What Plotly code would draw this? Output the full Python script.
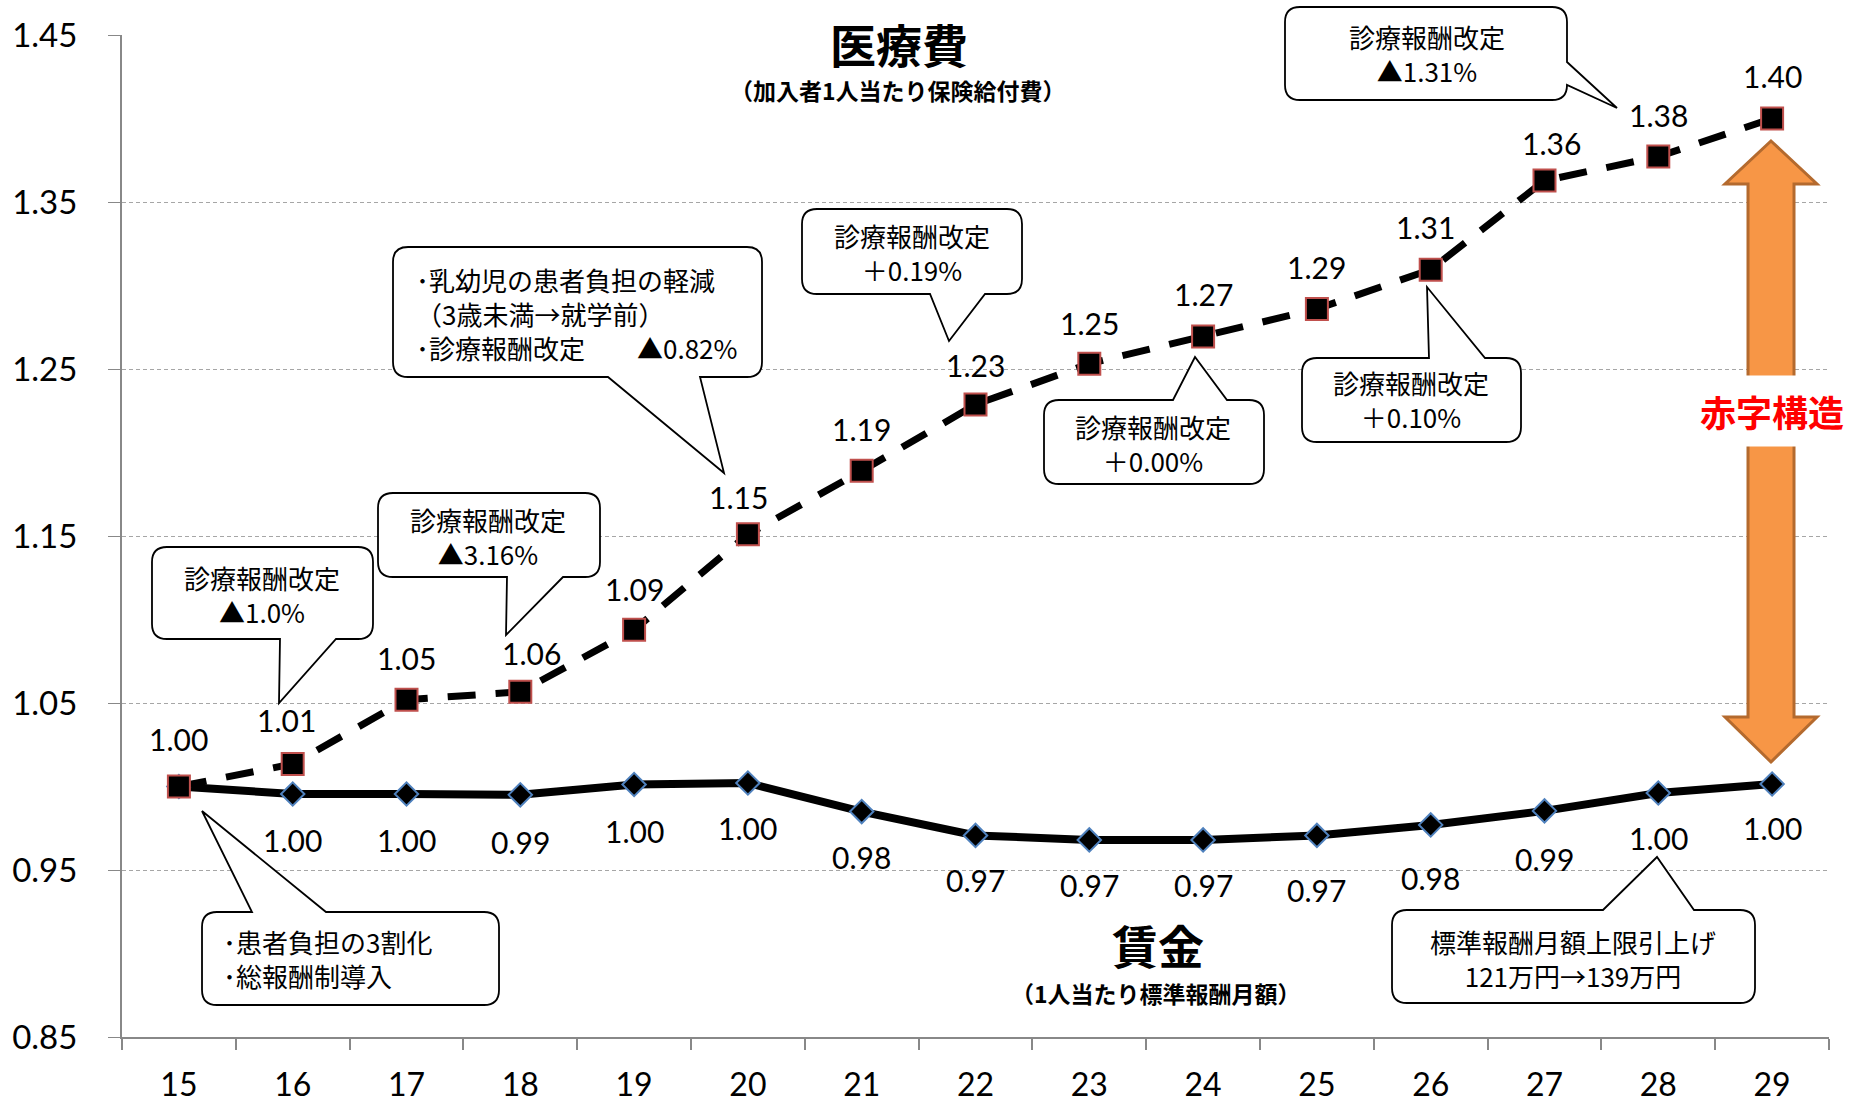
import plotly.graph_objects as go

# ---------------- data ----------------
years = ["15", "16", "17", "18", "19", "20", "21", "22", "23", "24", "25", "26", "27", "28", "29"]
medical = [1.000, 1.0135, 1.052, 1.0567, 1.0938, 1.151, 1.189, 1.2287, 1.2532, 1.2694, 1.286, 1.3095, 1.3628, 1.3772, 1.400]
wage = [1.000, 0.9955, 0.9955, 0.995, 1.0012, 1.0021, 0.985, 0.9707, 0.968, 0.968, 0.9707, 0.977, 0.9854, 0.9961, 1.0015]
medical_labels = ["1.00", "1.01", "1.05", "1.06", "1.09", "1.15", "1.19", "1.23", "1.25", "1.27", "1.29", "1.31", "1.36", "1.38", "1.40"]
wage_labels = ["", "1.00", "1.00", "0.99", "1.00", "1.00", "0.98", "0.97", "0.97", "0.97", "0.97", "0.98", "0.99", "1.00", "1.00"]
y_ticks = [0.85, 0.95, 1.05, 1.15, 1.25, 1.35, 1.45]

# label offsets (pixels)
med_dy = [48, 44, 42, 39, 41, 37, 42, 40, 41, 43, 42, 43, 38, 42, 43]
med_dx = [0, -6, 0, 11, 0, -9, 0, 0, 0, 0, 0, -5, 7, 0, 0]
wage_dy = [46, 46, 46, 47, 46, 45, 45, 45, 45, 45, 55, 53, 48, 45, 44]

# ---------------- geometry ----------------
W, H = 1858, 1102
ML, MR, MT, MB = 122, 29, 35, 65
PW, PH = W - ML - MR, H - MT - MB


def px(x):
    return (x - ML) / PW


def py(y):
    return (H - MB - y) / PH


def P(x, y):
    return f"{px(x):.5f},{py(y):.5f}"


def bubble(x0, y0, x1, y1, side, b1, b2, tip, r=15):
    tx, ty = tip
    s = f"M{P(x0 + r, y0)}"
    if side == "top":
        s += f" L{P(b1, y0)} L{P(tx, ty)} L{P(b2, y0)}"
    s += f" L{P(x1 - r, y0)} Q{P(x1, y0)} {P(x1, y0 + r)}"
    if side == "right":
        s += f" L{P(x1, b1)} L{P(tx, ty)} L{P(x1, b2)}"
    s += f" L{P(x1, y1 - r)} Q{P(x1, y1)} {P(x1 - r, y1)}"
    if side == "bottom":
        s += f" L{P(b2, y1)} L{P(tx, ty)} L{P(b1, y1)}"
    s += f" L{P(x0 + r, y1)} Q{P(x0, y1)} {P(x0, y1 - r)}"
    s += f" L{P(x0, y0 + r)} Q{P(x0, y0)} {P(x0 + r, y0)} Z"
    return s


JP = "Noto Sans CJK JP"
NUM = "Lato"

fig = go.Figure()

fig.add_trace(go.Scatter(
    x=years, y=wage, mode="lines+markers",
    line=dict(color="black", width=8),
    marker=dict(symbol="diamond", size=18, color="black", line=dict(color="#4F81BD", width=2)),
    cliponaxis=False, hoverinfo="skip",
))
fig.add_trace(go.Scatter(
    x=years, y=medical, mode="lines+markers",
    line=dict(color="black", width=7, dash="28px,20px"),
    marker=dict(symbol="square", size=22, color="black", line=dict(color="#C0504D", width=2)),
    cliponaxis=False, hoverinfo="skip",
))

annotations = []
for i in range(len(years)):
    annotations.append(dict(x=i, y=medical[i], xref="x", yref="y", text=medical_labels[i],
                            showarrow=False, yshift=med_dy[i], xshift=med_dx[i],
                            xanchor="center", yanchor="middle",
                            font=dict(family=NUM, size=30, color="black")))
    if wage_labels[i]:
        annotations.append(dict(x=i, y=wage[i], xref="x", yref="y", text=wage_labels[i],
                                showarrow=False, yshift=-wage_dy[i],
                                xanchor="center", yanchor="middle",
                                font=dict(family=NUM, size=30, color="black")))

# callouts: (box, side, base1, base2, tip, text, text anchor, align)
callouts = [
    ((1285, 7, 1567, 100), "right", 62, 85, (1617, 108), "診療報酬改定<br>▲1.31%", (1427, 54), "center"),
    ((802, 209, 1022, 294), "bottom", 930, 985, (949, 341), "診療報酬改定<br>＋0.19%", (912, 253), "center"),
    ((393, 247, 762, 377), "bottom", 608, 700, (724, 473),
     "･乳幼児の患者負担の軽減<br>（3歳未満→就学前）<br>･診療報酬改定　　▲0.82%", (414, 313), "left"),
    ((378, 493, 600, 577), "bottom", 507, 563, (506, 635), "診療報酬改定<br>▲3.16%", (488, 536), "center"),
    ((152, 547, 373, 639), "bottom", 280, 336, (279, 703), "診療報酬改定<br>▲1.0%", (262, 594), "center"),
    ((1044, 400, 1264, 484), "top", 1173, 1227, (1195, 357), "診療報酬改定<br>＋0.00%", (1153, 443), "center"),
    ((1302, 358, 1521, 442), "top", 1429, 1485, (1427, 287), "診療報酬改定<br>＋0.10%", (1411, 400), "center"),
    ((202, 912, 499, 1005), "top", 252, 326, (202, 811), "･患者負担の3割化<br>･総報酬制導入", (221, 959), "left"),
    ((1392, 910, 1755, 1003), "top", 1603, 1694, (1657, 857), "標準報酬月額上限引上げ<br>121万円→139万円", (1573, 958), "center"),
]

shapes = []
for box, side, b1, b2, tip, text, (tx, ty), align in callouts:
    shapes.append(dict(type="path", xref="paper", yref="paper",
                       path=bubble(*box, side, b1, b2, tip),
                       fillcolor="white", line=dict(color="black", width=1.8), layer="above"))
    annotations.append(dict(x=px(tx), y=py(ty), xref="paper", yref="paper", text=text, showarrow=False,
                            xanchor="left" if align == "left" else "center", yanchor="middle", align=align,
                            font=dict(family=JP, size=26, color="black")))

# orange double arrow
ax_c, sh_l, sh_r, hd_l, hd_r = 1771, 1748, 1794, 1725, 1817
top_tip, top_base, bot_base, bot_tip = 141, 184, 717, 762
arrow = (f"M{P(ax_c, top_tip)} L{P(hd_r, top_base)} L{P(sh_r, top_base)} L{P(sh_r, bot_base)} "
         f"L{P(hd_r, bot_base)} L{P(ax_c, bot_tip)} L{P(hd_l, bot_base)} L{P(sh_l, bot_base)} "
         f"L{P(sh_l, top_base)} L{P(hd_l, top_base)} Z")
shapes.append(dict(type="path", xref="paper", yref="paper", path=arrow,
                   fillcolor="#F79646", line=dict(color="#B46A2E", width=3), layer="above"))

annotations.append(dict(x=px(1772), y=py(411), xref="paper", yref="paper", text="<b>赤字構造</b>",
                        showarrow=False, bgcolor="white", borderpad=9,
                        xanchor="center", yanchor="middle",
                        font=dict(family=JP, size=36, color="#FF0000")))

# titles
annotations += [
    dict(x=px(899), y=py(43), xref="paper", yref="paper", text="<b>医療費</b>", showarrow=False,
         xanchor="center", yanchor="middle", font=dict(family=JP, size=46, color="black")),
    dict(x=px(898), y=py(90), xref="paper", yref="paper", text="<b>（加入者1人当たり保険給付費）</b>",
         showarrow=False, xanchor="center", yanchor="middle", font=dict(family=JP, size=23, color="black")),
    dict(x=px(1158), y=py(944), xref="paper", yref="paper", text="<b>賃金</b>", showarrow=False,
         xanchor="center", yanchor="middle", font=dict(family=JP, size=46, color="black")),
    dict(x=px(1156), y=py(993), xref="paper", yref="paper", text="<b>（1人当たり標準報酬月額）</b>",
         showarrow=False, xanchor="center", yanchor="middle", font=dict(family=JP, size=23, color="black")),
]

fig.update_layout(
    width=W, height=H,
    margin=dict(l=ML, r=MR, t=MT, b=MB, autoexpand=False),
    paper_bgcolor="white", plot_bgcolor="white",
    showlegend=False,
    shapes=shapes, annotations=annotations,
    xaxis=dict(type="category", range=[-0.5, 14.5], showgrid=False, zeroline=False,
               showline=True, linecolor="#888888", linewidth=2,
               ticks="outside", tickson="boundaries", ticklen=11, tickcolor="#888888", tickwidth=2,
               tickfont=dict(family=NUM, size=32, color="black"), ticklabelstandoff=19,
               automargin=False),
    yaxis=dict(range=[0.85, 1.45], tickmode="array", tickvals=y_ticks, tickformat=".2f",
               showgrid=True, gridcolor="#A6A6A6", gridwidth=1, griddash="4px,3px",
               zeroline=False, showline=True, linecolor="#888888", linewidth=2,
               ticks="outside", ticklen=12, tickcolor="#888888", tickwidth=1,
               tickfont=dict(family=NUM, size=33, color="black"), ticklabelstandoff=24,
               automargin=False),
)

fig.write_html("out.html")
